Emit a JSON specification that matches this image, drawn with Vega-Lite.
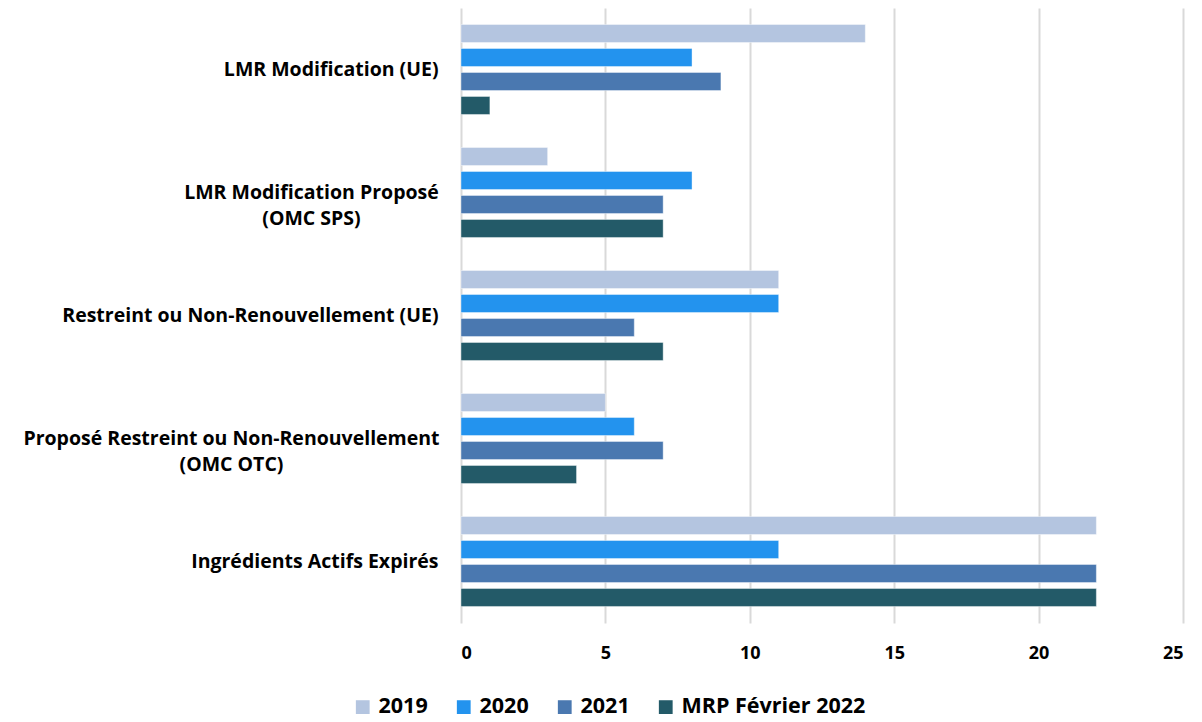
{
  "$schema": "https://vega.github.io/schema/vega-lite/v6.json",
  "autosize": {"type": "none"},
  "width": 722,
  "height": 615,
  "padding": {"left": 461, "top": 8, "right": 19, "bottom": 99},
  "background": "white",
  "config": {
    "view": {"stroke": null},
    "font": "Open Sans",
    "axis": {"labelFont": "Open Sans", "labelFontWeight": "bold", "labelColor": "#000000", "labelFontSize": 19.5, "labelLimit": 0},
    "legend": {"labelFont": "Open Sans", "labelFontWeight": "bold", "labelColor": "#000000", "labelFontSize": 21.5, "labelLimit": 0}
  },
  "data": {
    "values": [
      {"cat": "LMR Modification (UE)", "series": "2019", "value": 14},
      {"cat": "LMR Modification (UE)", "series": "2020", "value": 8},
      {"cat": "LMR Modification (UE)", "series": "2021", "value": 9},
      {"cat": "LMR Modification (UE)", "series": "MRP Février 2022", "value": 1},
      {"cat": "LMR Modification Proposé (OMC SPS)", "series": "2019", "value": 3},
      {"cat": "LMR Modification Proposé (OMC SPS)", "series": "2020", "value": 8},
      {"cat": "LMR Modification Proposé (OMC SPS)", "series": "2021", "value": 7},
      {"cat": "LMR Modification Proposé (OMC SPS)", "series": "MRP Février 2022", "value": 7},
      {"cat": "Restreint ou Non-Renouvellement (UE)", "series": "2019", "value": 11},
      {"cat": "Restreint ou Non-Renouvellement (UE)", "series": "2020", "value": 11},
      {"cat": "Restreint ou Non-Renouvellement (UE)", "series": "2021", "value": 6},
      {"cat": "Restreint ou Non-Renouvellement (UE)", "series": "MRP Février 2022", "value": 7},
      {"cat": "Proposé Restreint ou Non-Renouvellement (OMC OTC)", "series": "2019", "value": 5},
      {"cat": "Proposé Restreint ou Non-Renouvellement (OMC OTC)", "series": "2020", "value": 6},
      {"cat": "Proposé Restreint ou Non-Renouvellement (OMC OTC)", "series": "2021", "value": 7},
      {"cat": "Proposé Restreint ou Non-Renouvellement (OMC OTC)", "series": "MRP Février 2022", "value": 4},
      {"cat": "Ingrédients Actifs Expirés", "series": "2019", "value": 22},
      {"cat": "Ingrédients Actifs Expirés", "series": "2020", "value": 11},
      {"cat": "Ingrédients Actifs Expirés", "series": "2021", "value": 22},
      {"cat": "Ingrédients Actifs Expirés", "series": "MRP Février 2022", "value": 22}
    ]
  },
  "mark": {"type": "bar", "stroke": "#ffffff", "strokeOpacity": 0.5, "strokeWidth": 0.8},
  "encoding": {
    "y": {
      "field": "cat", "type": "nominal", "sort": null,
      "scale": {"paddingInner": 0.22, "paddingOuter": 0.11},
      "axis": {
        "title": null, "domain": false, "ticks": false,
        "labelPadding": {"condition": [{"test": "indexof(datum.value, 'OMC S') >= 0", "value": 150}, {"test": "indexof(datum.value, 'OMC O') >= 0", "value": 230}], "value": 23},
        "labelAlign": {"condition": {"test": "indexof(datum.value, '(OMC') >= 0", "value": "center"}, "value": "right"},
        "labelLineHeight": 26,
        "labelExpr": "datum.value == 'LMR Modification Proposé (OMC SPS)' ? ['LMR Modification Proposé', '(OMC SPS)'] : datum.value == 'Proposé Restreint ou Non-Renouvellement (OMC OTC)' ? ['Proposé Restreint ou Non-Renouvellement', '(OMC OTC)'] : datum.value"
      }
    },
    "yOffset": {"field": "series", "type": "nominal", "scale": {"paddingInner": 0.25, "paddingOuter": 0.125}},
    "x": {
      "field": "value", "type": "quantitative",
      "scale": {"domain": [0, 25], "nice": false},
      "axis": {
        "title": null, "values": [0, 5, 10, 15, 20, 25], "domain": false, "ticks": false,
        "grid": true, "gridColor": "#d9d9d9", "gridWidth": 2, "labelPadding": 21, "labelFontSize": 18
      }
    },
    "color": {
      "field": "series", "type": "nominal",
      "scale": {"domain": ["2019", "2020", "2021", "MRP Février 2022"], "range": ["#b4c5e0", "#2393ee", "#4a78b0", "#235a68"]},
      "legend": {
        "title": null, "orient": "none", "direction": "horizontal",
        "legendX": -109, "legendY": 688,
        "symbolType": "square", "symbolSize": 190, "symbolStrokeWidth": 0,
        "columnPadding": 25, "labelOffset": 5
      }
    }
  }
}
